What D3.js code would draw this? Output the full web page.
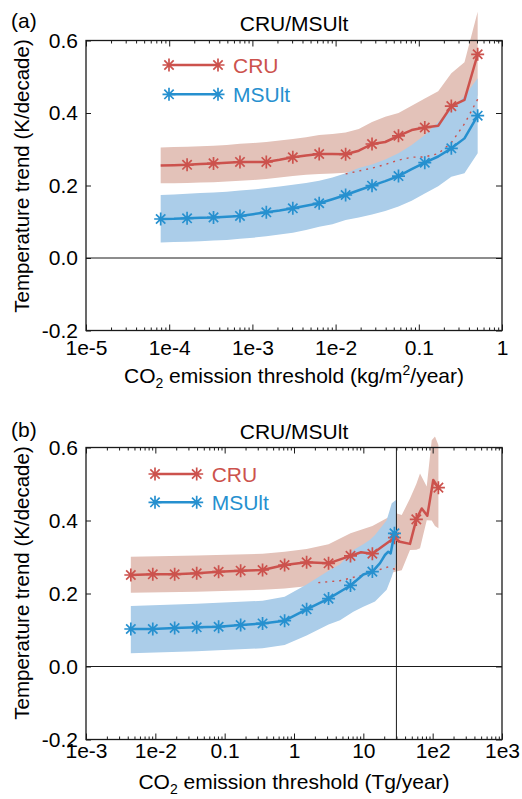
<!DOCTYPE html>
<html><head><meta charset="utf-8">
<script src="https://cdn.jsdelivr.net/npm/d3@7/dist/d3.min.js"></script>
<style>
body{margin:0;background:#fff;}
svg{display:block;font-family:"Liberation Sans",Arial,Helvetica,sans-serif;}
</style></head><body>
<svg id="chart" width="522" height="799"></svg>
<script>
// ---------- shared ----------
const yTicks = [-0.2, 0, 0.2, 0.4, 0.6];
const yTickLabels = ["-0.2", "0.0", "0.2", "0.4", "0.6"];
const seriesNames = ["CRU", "MSUlt"];
const titleText = "CRU/MSUlt";

// ---------- panel (a): kg/m2/year ----------
const aXTicks = [1e-5, 1e-4, 1e-3, 1e-2, 0.1, 1];
const aXTickLabels = ["1e-5", "1e-4", "1e-3", "1e-2", "0.1", "1"];
const aThreshold = [7.9e-5, 1.14e-4, 1.64e-4, 2.37e-4, 3.41e-4, 4.92e-4, 7.09e-4, 1.02e-3, 1.47e-3, 2.12e-3, 3.06e-3, 4.41e-3, 6.35e-3, 9.16e-3, 0.0132, 0.0190, 0.0274, 0.0395, 0.0570, 0.0821, 0.118, 0.171, 0.246, 0.354, 0.51];
const aCRU   = [0.255,0.256,0.257,0.259,0.261,0.263,0.265,0.265,0.265,0.271,0.278,0.283,0.287,0.287,0.286,0.296,0.3145,0.320,0.337,0.353,0.360,0.365,0.419,0.436,0.562];
const aCRUHi = [0.305,0.306,0.307,0.308,0.310,0.312,0.315,0.317,0.320,0.324,0.328,0.333,0.339,0.342,0.346,0.356,0.375,0.390,0.400,0.420,0.440,0.460,0.510,0.540,0.679];
const aCRULo = [0.206,0.206,0.207,0.208,0.209,0.211,0.213,0.215,0.218,0.222,0.226,0.230,0.232,0.233,0.235,0.240,0.250,0.260,0.280,0.290,0.300,0.310,0.340,0.360,0.450];
const aMSU   = [0.1076,0.108,0.1095,0.111,0.112,0.114,0.116,0.121,0.126,0.131,0.137,0.144,0.151,0.162,0.1738,0.187,0.1995,0.212,0.226,0.245,0.263,0.280,0.3025,0.330,0.3926];
const aMSUHi = [0.174,0.175,0.177,0.179,0.181,0.183,0.186,0.189,0.193,0.197,0.202,0.207,0.213,0.222,0.234,0.248,0.258,0.272,0.289,0.312,0.339,0.375,0.413,0.447,0.496];
const aMSULo = [0.043,0.044,0.045,0.046,0.048,0.050,0.053,0.056,0.060,0.065,0.070,0.077,0.086,0.093,0.105,0.112,0.120,0.130,0.142,0.158,0.178,0.198,0.224,0.234,0.289];
const aCRUMarkers = [2,4,6,8,10,12,14,16,18,20,22,24];
const aMSUMarkers = [0,2,4,6,8,10,12,14,16,18,20,22,24];
const aDotX = [0.0132, 0.0190, 0.0274, 0.0395, 0.0570, 0.0821, 0.118, 0.171, 0.246, 0.354, 0.51];
const aDotY = [0.232, 0.240, 0.248, 0.258, 0.270, 0.278, 0.279, 0.288, 0.318, 0.370, 0.438];

// ---------- panel (b): Tg/year ----------
const bXTicks = [1e-3, 1e-2, 0.1, 1, 10, 100, 1000];
const bXTickLabels = ["1e-3", "1e-2", "0.1", "1", "10", "1e2", "1e3"];
const bCRUX = [4.43e-3, 9.19e-3, 0.0190, 0.0395, 0.0818, 0.170, 0.352, 0.732, 1.52, 3.15, 6.53, 9.26, 13.5, 19.2, 28.1, 33.8, 47.1, 58.1, 69.5, 83.7, 102, 121];
const bCRU  = [0.2507,0.2526,0.2526,0.2553,0.2597,0.2625,0.2644,0.278,0.2855,0.2827,0.303,0.313,0.309,0.330,0.353,0.342,0.336,0.403,0.433,0.413,0.511,0.490];
const bCRUMarkers = [0,1,2,3,4,5,6,7,8,9,10,12,14,17,21];
const bMSUX = [4.43e-3, 9.19e-3, 0.0190, 0.0395, 0.0818, 0.170, 0.352, 0.732, 1.52, 3.15, 6.53, 9.99, 13.5, 17.4, 20.5, 22.9, 24.8, 28.1];
const bMSU  = [0.1027,0.1027,0.1055,0.1073,0.109,0.1137,0.118,0.1255,0.1567,0.186,0.222,0.252,0.260,0.283,0.3055,0.3145,0.310,0.365];
const bMSUMarkers = [0,1,2,3,4,5,6,7,8,9,10,12,17];
const bCRUBandX = [4.43e-3, 0.0395, 0.352, 0.732, 1.52, 3.15, 6.53, 13.5, 21.7, 29.6, 35.8, 47.1, 58.1, 65.7, 82.1, 96.9, 108, 121];
const bCRUHi    = [0.301, 0.304, 0.309, 0.3145, 0.322, 0.335, 0.365, 0.385, 0.406, 0.420, 0.415, 0.460, 0.500, 0.529, 0.493, 0.620, 0.630, 0.607];
const bCRULo    = [0.202, 0.205, 0.210, 0.214, 0.220, 0.226, 0.235, 0.245, 0.252, 0.260, 0.264, 0.319, 0.320, 0.324, 0.401, 0.400, 0.385, 0.379];
const bMSUBandX = [4.43e-3, 0.0395, 0.352, 0.732, 1.52, 3.15, 4.61, 7.17, 9.99, 12.5, 14.74, 21.7, 25.7, 29.6];
const bMSUHi    = [0.166, 0.172, 0.180, 0.191, 0.225, 0.262, 0.280, 0.319, 0.335, 0.347, 0.360, 0.401, 0.447, 0.456];
const bMSULo    = [0.036, 0.042, 0.050, 0.059, 0.085, 0.115, 0.127, 0.150, 0.164, 0.172, 0.178, 0.210, 0.246, 0.283];
const bDotX = [2.24, 4.61, 9.99, 22.9, 32];
const bDotY = [0.2297, 0.235, 0.251, 0.273, 0.263];
const bVLine = 30;

// ---------- styles ----------
const colCRU = "#cc524d", colMSU = "#2690cf";
const bandCRU = "#e3c2b9", bandMSU = "#abcde9";
const axisCol = "#1a1a1a";

const svg = d3.select("#chart");

function asterisk(sel, px, py, color, s) {
  const d = s * 0.72;
  sel.append("path")
    .attr("d", `M${px - s},${py}L${px + s},${py}M${px},${py - s}L${px},${py + s}M${px - d},${py - d}L${px + d},${py + d}M${px - d},${py + d}L${px + d},${py - d}`)
    .attr("stroke", color).attr("stroke-width", 1.7).attr("fill", "none");
}

function drawPanel(cfg) {
  const g = svg.append("g");
  const x = d3.scaleLog().domain(cfg.xDomain).range([86, 502]);
  const y = d3.scaleLinear().domain([-0.2, 0.6]).range([cfg.yBottom, cfg.yTop]);

  const area = d3.area().x(d => x(d[0])).y0(d => y(d[1])).y1(d => y(d[2]));
  const line = d3.line().x(d => x(d[0])).y(d => y(d[1]));

  // bands
  g.append("path").datum(d3.zip(cfg.cruBandX, cfg.cruLo, cfg.cruHi)).attr("d", area).attr("fill", bandCRU);
  g.append("path").datum(d3.zip(cfg.msuBandX, cfg.msuLo, cfg.msuHi)).attr("d", area).attr("fill", bandMSU);

  // zero line & optional vertical line
  g.append("line").attr("x1", 86).attr("x2", 502).attr("y1", y(0)).attr("y2", y(0))
    .attr("stroke", axisCol).attr("stroke-width", 1);
  if (cfg.vline) {
    g.append("line").attr("x1", x(cfg.vline)).attr("x2", x(cfg.vline)).attr("y1", cfg.yTop).attr("y2", cfg.yBottom)
      .attr("stroke", axisCol).attr("stroke-width", 1);
  }

  // dotted
  g.append("path").datum(d3.zip(cfg.dotX, cfg.dotY)).attr("d", line)
    .attr("fill", "none").attr("stroke", colCRU).attr("stroke-width", 1.4).attr("stroke-dasharray", "2,5");

  // lines
  const cruPts = d3.zip(cfg.cruX, cfg.cru);
  const msuPts = d3.zip(cfg.msuX, cfg.msu);
  g.append("path").datum(cruPts).attr("d", line).attr("fill", "none").attr("stroke", colCRU)
    .attr("stroke-width", 2.5).attr("stroke-linejoin", "round");
  const mk = g.append("g");
  cfg.cruMarkers.forEach(i => asterisk(mk, x(cruPts[i][0]), y(cruPts[i][1]), colCRU, 6.5));
  g.append("path").datum(msuPts).attr("d", line).attr("fill", "none").attr("stroke", colMSU)
    .attr("stroke-width", 2.5).attr("stroke-linejoin", "round");
  const mk2 = g.append("g");
  cfg.msuMarkers.forEach(i => asterisk(mk2, x(msuPts[i][0]), y(msuPts[i][1]), colMSU, 6.5));

  // minor ticks
  const lo = Math.log10(cfg.xDomain[0]), hi = Math.log10(cfg.xDomain[1]);
  const minors = [];
  for (let e = lo; e < hi; e++) for (let m = 2; m <= 9; m++) minors.push(m * Math.pow(10, e));

  const styleAxis = s => {
    s.select(".domain").remove();
    s.selectAll(".tick line").attr("stroke", axisCol).attr("stroke-width", 1);
    s.selectAll("text").attr("fill", "#000").attr("font-size", 21)
      .attr("font-family", '"Liberation Sans",Arial,Helvetica,sans-serif');
  };
  // bottom
  g.append("g").attr("transform", `translate(0,${cfg.yBottom})`)
    .call(d3.axisBottom(x).tickValues(cfg.xTicks).tickFormat((d, i) => cfg.xTickLabels[i])
      .tickSizeInner(-6).tickSizeOuter(0).tickPadding(cfg.xPad)).call(styleAxis);
  g.append("g").attr("transform", `translate(0,${cfg.yBottom})`)
    .call(d3.axisBottom(x).tickValues(minors).tickFormat("").tickSizeInner(-3).tickSizeOuter(0)).call(styleAxis);
  // top
  g.append("g").attr("transform", `translate(0,${cfg.yTop})`)
    .call(d3.axisTop(x).tickValues(cfg.xTicks).tickFormat("").tickSizeInner(-6).tickSizeOuter(0)).call(styleAxis);
  g.append("g").attr("transform", `translate(0,${cfg.yTop})`)
    .call(d3.axisTop(x).tickValues(minors).tickFormat("").tickSizeInner(-3).tickSizeOuter(0)).call(styleAxis);
  // left
  g.append("g").attr("transform", `translate(86,0)`)
    .call(d3.axisLeft(y).tickValues(yTicks).tickFormat((d, i) => yTickLabels[i])
      .tickSizeInner(-5).tickSizeOuter(0).tickPadding(8)).call(styleAxis);
  // right
  g.append("g").attr("transform", `translate(502,0)`)
    .call(d3.axisRight(y).tickValues(yTicks).tickFormat("").tickSizeInner(-6).tickSizeOuter(0)).call(styleAxis);

  // frame
  g.append("rect").attr("x", 86).attr("y", cfg.yTop).attr("width", 416).attr("height", cfg.yBottom - cfg.yTop)
    .attr("fill", "none").attr("stroke", axisCol).attr("stroke-width", 1.3);

  // title & panel label
  g.append("text").attr("x", 294).attr("y", cfg.titleY).attr("text-anchor", "middle")
    .attr("font-size", 21).text(titleText);
  g.append("text").attr("x", 11).attr("y", cfg.panelY).attr("font-size", 21).text(cfg.panelLabel);

  // y label
  g.append("text").attr("transform", `translate(29,${cfg.yLabelC}) rotate(-90)`)
    .attr("text-anchor", "middle").attr("font-size", 20.5).text("Temperature trend (K/decade)");

  // x label
  const xl = g.append("text").attr("x", 294).attr("y", cfg.xLabelY).attr("text-anchor", "middle").attr("font-size", 21);
  xl.append("tspan").text("CO");
  xl.append("tspan").attr("font-size", 14).attr("dy", 5).text("2");
  if (cfg.unitSup) {
    xl.append("tspan").attr("dy", -5).text(" emission threshold (" + cfg.unitA);
    xl.append("tspan").attr("font-size", 14).attr("dy", -8).text("2");
    xl.append("tspan").attr("dy", 8).text(cfg.unitB);
  } else {
    xl.append("tspan").attr("dy", -5).text(" emission threshold (" + cfg.unitA);
  }

  // legend
  const lg = g.append("g");
  [[colCRU, cfg.legY[0], seriesNames[0]], [colMSU, cfg.legY[1], seriesNames[1]]].forEach(([c, ly, name]) => {
    lg.append("line").attr("x1", cfg.legX[0]).attr("x2", cfg.legX[1]).attr("y1", ly).attr("y2", ly)
      .attr("stroke", c).attr("stroke-width", 2.5);
    asterisk(lg, cfg.legX[0], ly, c, 6.5);
    asterisk(lg, cfg.legX[1], ly, c, 6.5);
    lg.append("text").attr("x", cfg.legX[1] + 15).attr("y", ly + 7.5).attr("font-size", 21)
      .attr("fill", c).text(name);
  });
}

drawPanel({
  xDomain: [1e-5, 1], yTop: 40.5, yBottom: 330.5,
  xTicks: aXTicks, xTickLabels: aXTickLabels, xPad: 9.5,
  cruX: aThreshold, cru: aCRU, msuX: aThreshold, msu: aMSU,
  cruBandX: aThreshold, cruLo: aCRULo, cruHi: aCRUHi,
  msuBandX: aThreshold, msuLo: aMSULo, msuHi: aMSUHi,
  cruMarkers: aCRUMarkers, msuMarkers: aMSUMarkers,
  dotX: aDotX, dotY: aDotY, vline: null,
  titleY: 30.5, panelY: 28, panelLabel: "(a)", yLabelC: 176, xLabelY: 383,
  unitSup: true, unitA: "kg/m", unitB: "/year)",
  legX: [169, 218], legY: [65, 94.3]
});

drawPanel({
  xDomain: [1e-3, 1e3], yTop: 447.5, yBottom: 739.5,
  xTicks: bXTicks, xTickLabels: bXTickLabels, xPad: 3.5,
  cruX: bCRUX, cru: bCRU, msuX: bMSUX, msu: bMSU,
  cruBandX: bCRUBandX, cruLo: bCRULo, cruHi: bCRUHi,
  msuBandX: bMSUBandX, msuLo: bMSULo, msuHi: bMSUHi,
  cruMarkers: bCRUMarkers, msuMarkers: bMSUMarkers,
  dotX: bDotX, dotY: bDotY, vline: bVLine,
  titleY: 439, panelY: 437, panelLabel: "(b)", yLabelC: 583, xLabelY: 789,
  unitSup: false, unitA: "Tg/year)", unitB: "",
  legX: [155, 196.7], legY: [474, 502.3]
});
</script>
</body></html>
